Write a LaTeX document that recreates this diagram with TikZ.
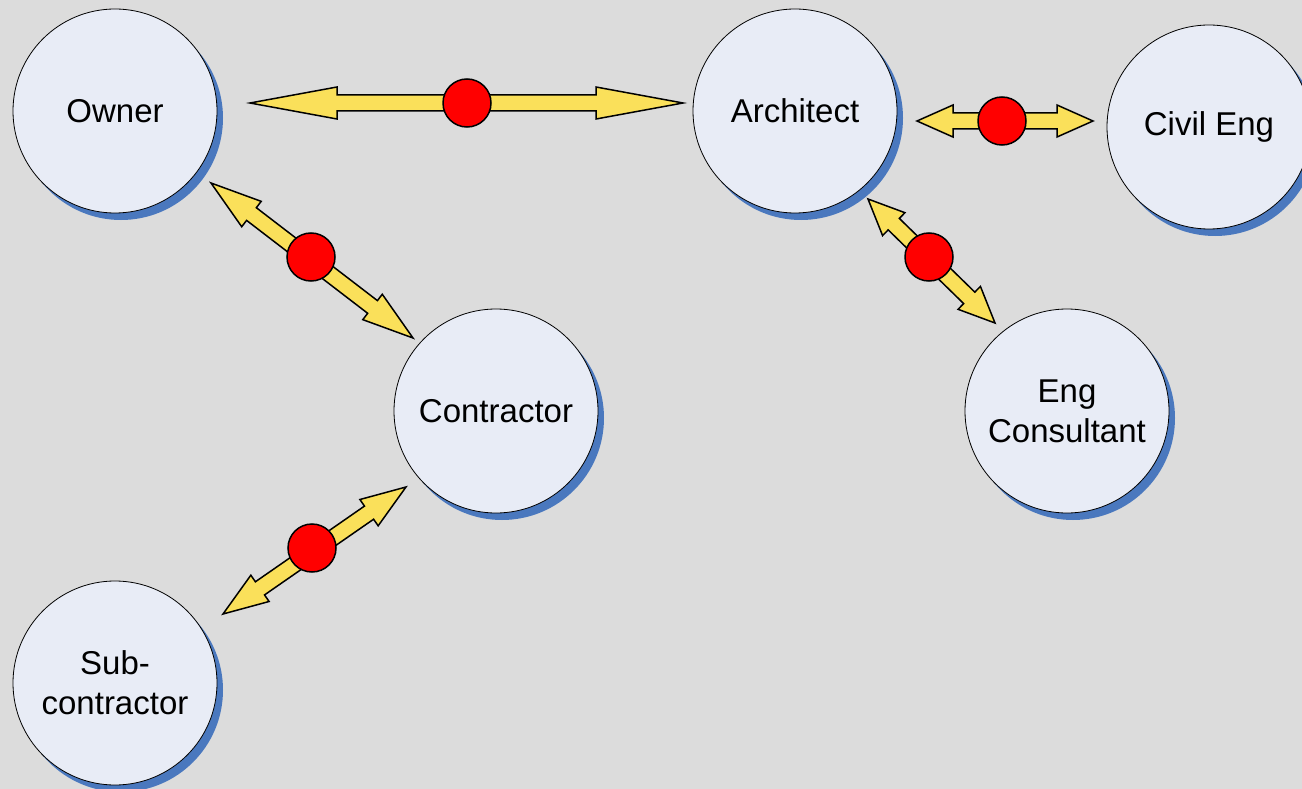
\documentclass[tikz,border=0pt]{standalone}
\usepackage{fontspec}
\setmainfont{Liberation Sans}
\usetikzlibrary{calc,shadows}
\definecolor{bgc}{HTML}{DCDCDC}
\definecolor{nodefill}{HTML}{E8ECF6}
\definecolor{shblue}{HTML}{4A78BE}
\definecolor{arrowyel}{HTML}{FAE05A}
\tikzset{
  party/.style={circle, draw=black, line width=0.8pt, fill=nodefill,
    minimum size=204pt, inner sep=0pt, align=center,
    font=\fontsize{33}{40}\selectfont,
    drop shadow={shadow xshift=6pt, shadow yshift=-7pt, fill=shblue, opacity=1}},
  fatarrowstyle/.style={draw=black, line width=1.5pt, fill=arrowyel, line join=miter},
  reddot/.style={circle, draw=black, line width=1.5pt, fill=red, minimum size=48pt, inner sep=0pt}
}
\newcommand\fatarrow[3]{%
  \draw[fatarrowstyle] (#1)
   -- ($(#1)!#3!(#2)!16pt!90:(#2)$)
   -- ($(#1)!#3!(#2)!8pt!90:(#2)$)
   -- ($(#2)!#3!(#1)!8pt!-90:(#1)$)
   -- ($(#2)!#3!(#1)!16pt!-90:(#1)$)
   -- (#2)
   -- ($(#2)!#3!(#1)!16pt!90:(#1)$)
   -- ($(#2)!#3!(#1)!8pt!90:(#1)$)
   -- ($(#1)!#3!(#2)!8pt!-90:(#2)$)
   -- ($(#1)!#3!(#2)!16pt!-90:(#2)$)
   -- cycle;}
\begin{document}
\begin{tikzpicture}[x=1pt,y=-1pt]
\useasboundingbox (0,0) rectangle (1302,789);
\clip (0,0) rectangle (1302,789);
\fill[bgc] (0,0) rectangle (1302,789);

\node[party] (owner) at (115,111) {Owner};
\node[party] (arch) at (795,111) {Architect};
\node[party] (civil) at (1209,127) {Civil Eng};
\node[party] (contr) at (496,411) {Contractor};
\node[party] (engc) at (1067,411) {Eng\\Consultant};
\node[party] (sub) at (115,683) {Sub-\\contractor};

% arrow end points
\coordinate (oa1) at (250,103);
\coordinate (oa2) at (683,103);
\coordinate (ac1) at (917,121);
\coordinate (ac2) at (1093,121);
\coordinate (oc1) at (211,183);
\coordinate (oc2) at (413,338);
\coordinate (cs1) at (406,487);
\coordinate (cs2) at (223,614);
\coordinate (ae1) at (868,199);
\coordinate (ae2) at (995,323);

\fatarrow{oa1}{oa2}{87pt}
\fatarrow{ac1}{ac2}{36pt}
\fatarrow{oc1}{oc2}{51pt}
\fatarrow{cs1}{cs2}{45pt}
\fatarrow{ae1}{ae2}{36pt}

\node[reddot] (d1) at (467,103) {};
\node[reddot] (d2) at (1002,121) {};
\node[reddot] (d3) at (311,257) {};
\node[reddot] (d4) at (312,548) {};
\node[reddot] (d5) at (929,257) {};
\end{tikzpicture}
\end{document}
